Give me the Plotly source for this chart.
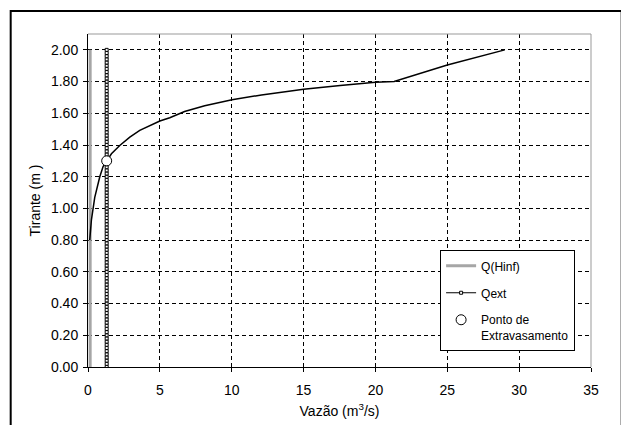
import plotly.graph_objects as go

# Q(Hinf) - vertical gray line
hinf_h = [0.00, 0.20, 0.40, 0.60, 0.80, 1.00, 1.20, 1.40, 1.60, 1.80, 2.00]
hinf_q = [0.15, 0.15, 0.15, 0.15, 0.15, 0.15, 0.15, 0.15, 0.15, 0.15, 0.15]

# Qext - constant discharge with dense square markers
qext_h = [0.00, 0.02, 0.04, 0.06, 0.08, 0.10, 0.12, 0.14, 0.16, 0.18,
          0.20, 0.22, 0.24, 0.26, 0.28, 0.30, 0.32, 0.34, 0.36, 0.38,
          0.40, 0.42, 0.44, 0.46, 0.48, 0.50, 0.52, 0.54, 0.56, 0.58,
          0.60, 0.62, 0.64, 0.66, 0.68, 0.70, 0.72, 0.74, 0.76, 0.78,
          0.80, 0.82, 0.84, 0.86, 0.88, 0.90, 0.92, 0.94, 0.96, 0.98,
          1.00, 1.02, 1.04, 1.06, 1.08, 1.10, 1.12, 1.14, 1.16, 1.18,
          1.20, 1.22, 1.24, 1.26, 1.28, 1.30, 1.32, 1.34, 1.36, 1.38,
          1.40, 1.42, 1.44, 1.46, 1.48, 1.50, 1.52, 1.54, 1.56, 1.58,
          1.60, 1.62, 1.64, 1.66, 1.68, 1.70, 1.72, 1.74, 1.76, 1.78,
          1.80, 1.82, 1.84, 1.86, 1.88, 1.90, 1.92, 1.94, 1.96, 1.98,
          2.00]
qext_value = 1.3

# Rating curve (black line)
curve_q = [0.12, 0.17, 0.24, 0.47, 0.82, 1.05, 1.30, 1.63, 2.21, 2.91, 3.60,
           4.30, 5.00, 5.69, 6.72, 8.12, 10.02, 12.07, 13.93, 15.00, 17.55,
           20.00, 21.30, 25.00, 29.00]
curve_h = [0.80, 0.86, 0.93, 1.07, 1.20, 1.264, 1.30, 1.345, 1.397, 1.45, 1.492,
           1.524, 1.551, 1.572, 1.611, 1.647, 1.685, 1.716, 1.737, 1.752, 1.775,
           1.795, 1.80, 1.905, 2.00]

# Ponto de Extravasamento
ponto_q = [1.3]
ponto_h = [1.30]

x_ticks = [0, 5, 10, 15, 20, 25, 30, 35]
y_ticks = [0.0, 0.2, 0.4, 0.6, 0.8, 1.0, 1.2, 1.4, 1.6, 1.8, 2.0]

fig = go.Figure()

fig.add_trace(go.Scatter(
    x=hinf_q, y=hinf_h, mode="lines", name="Q(Hinf)",
    line=dict(color="#a6a6a6", width=3), legendgroup="a"))

fig.add_trace(go.Scatter(
    x=[qext_value] * len(qext_h), y=qext_h, mode="lines+markers", name="Qext",
    line=dict(color="black", width=1),
    marker=dict(symbol="square", size=3, color="white",
                line=dict(color="black", width=1)),
    legendgroup="b"))

fig.add_trace(go.Scatter(
    x=curve_q, y=curve_h, mode="lines", showlegend=False,
    line=dict(color="black", width=1.5)))

fig.add_trace(go.Scatter(
    x=ponto_q, y=ponto_h, mode="markers", name="Ponto de<br>Extravasamento",
    marker=dict(symbol="circle", size=10, color="white",
                line=dict(color="black", width=1)),
    legendgroup="c"))

fig.update_layout(
    width=621, height=417,
    margin=dict(l=80, r=38, t=26, b=58, autoexpand=False),
    paper_bgcolor="white", plot_bgcolor="white",
    font=dict(family="Liberation Sans, Arial, sans-serif", size=14, color="black"),
    showlegend=True,
    legend=dict(x=0.70, y=0.35, xanchor="left", yanchor="top",
                bgcolor="white", bordercolor="black", borderwidth=1,
                font=dict(size=12), tracegroupgap=8, valign="top",
                itemwidth=30),
)

fig.update_xaxes(
    range=[0, 35], tickvals=x_ticks, ticks="outside", ticklen=4,
    tickcolor="black", showline=True, linecolor="black", linewidth=1,
    showgrid=True, gridcolor="black", gridwidth=1, griddash="4px,3px",
    zeroline=False, tickfont=dict(size=14), ticklabelstandoff=6,
    automargin=False,
    title=dict(text="Vazão (m<sup>3</sup>/s)", font=dict(size=14), standoff=9),
)
fig.update_yaxes(
    range=[0, 2.1], tickvals=y_ticks, tickformat=".2f", ticks="outside",
    ticklen=4, tickcolor="black", showline=True, linecolor="black",
    linewidth=1, showgrid=True, gridcolor="black", gridwidth=1,
    griddash="4px,3px", zeroline=False, tickfont=dict(size=14),
    ticklabelstandoff=2, automargin=False,
    title=dict(text="Tirante (m )", font=dict(size=14), standoff=7),
)

# gray top and right borders of plot area
fig.add_shape(type="line", xref="paper", yref="paper", x0=0, x1=1, y0=1, y1=1,
              line=dict(color="#999999", width=1), layer="above")
fig.add_shape(type="line", xref="paper", yref="paper", x0=1, x1=1, y0=0, y1=1,
              line=dict(color="#999999", width=1), layer="above")
# outer frame
fig.add_shape(type="rect", xref="paper", yref="paper",
              x0=-0.1537, x1=1.061, y0=-0.25, y1=1.069,
              line=dict(color="black", width=2), fillcolor="rgba(0,0,0,0)",
              layer="above")

fig.write_html("out.html")
